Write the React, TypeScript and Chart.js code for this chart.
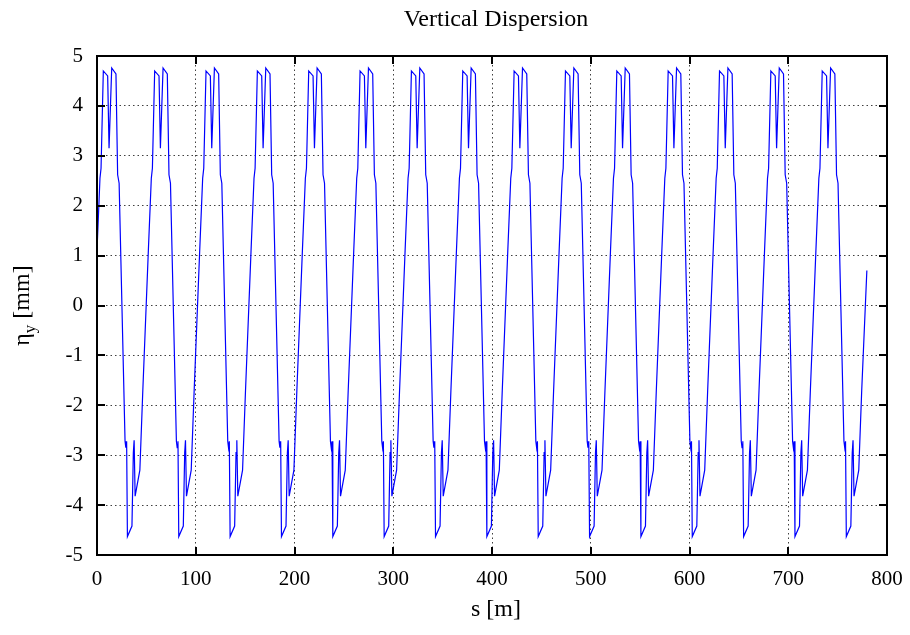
import React, { useEffect, useRef } from "react";
import { Chart, registerables } from "chart.js";

Chart.register(...registerables);

// Start position (m) of each repeated lattice cell
const cellStarts = [0, 52, 104, 156, 208, 260, 312, 364, 416, 468, 520, 572, 624, 676, 728];
// Positions inside one cell (m) and the vertical dispersion there (mm)
const cellOffsets = [0, 3.0, 4.1, 6.4, 10.8, 12.2, 14.9, 19.2, 20.9, 22.4, 28.4, 29.2, 30.0, 30.8, 35.4, 36.8, 37.6, 38.6, 43.4, 46.4];
const cellValues = [1.1, 2.55, 2.75, 4.7, 4.6, 3.15, 4.76, 4.64, 2.62, 2.45, -2.72, -2.85, -2.72, -4.63, -4.42, -2.95, -2.7, -3.82, -3.3, -1.7];
// Last sample at the end of the ring
const endS = [779.6];
const endValues = [0.7];

const xTicks = [0, 100, 200, 300, 400, 500, 600, 700, 800];
const yTicks = [-5, -4, -3, -2, -1, 0, 1, 2, 3, 4, 5];

const titleText = "Vertical Dispersion";
const xTitle = "s [m]";

const FONT = "'Liberation Serif', 'DejaVu Serif', serif";

export default function App() {
  const ref = useRef<HTMLCanvasElement | null>(null);

  useEffect(() => {
    document.body.style.margin = "0";
    const canvas = ref.current;
    if (!canvas) return;

    const pts: { x: number; y: number }[] = [];
    cellStarts.forEach((s0) => {
      cellOffsets.forEach((o, i) => pts.push({ x: s0 + o, y: cellValues[i] }));
    });
    endS.forEach((s, i) => pts.push({ x: s, y: endValues[i] }));

    const framePlugin = {
      id: "frame",
      afterDraw(chart: any) {
        const { ctx, chartArea } = chart;
        const { left, right, top, bottom } = chartArea;
        const xs = chart.scales.x;
        const ys = chart.scales.y;
        ctx.save();
        ctx.strokeStyle = "#000";
        ctx.lineWidth = 2;
        const tl = 8;
        ctx.beginPath();
        xTicks.forEach((v) => {
          const px = Math.round(xs.getPixelForValue(v));
          ctx.moveTo(px, bottom);
          ctx.lineTo(px, bottom - tl);
          ctx.moveTo(px, top);
          ctx.lineTo(px, top + tl);
        });
        yTicks.forEach((v) => {
          const py = Math.round(ys.getPixelForValue(v));
          ctx.moveTo(left, py);
          ctx.lineTo(left + tl, py);
          ctx.moveTo(right, py);
          ctx.lineTo(right - tl, py);
        });
        ctx.stroke();
        ctx.strokeRect(left, top, right - left, bottom - top);

        ctx.fillStyle = "#000";
        ctx.textAlign = "center";
        ctx.textBaseline = "middle";
        ctx.font = `24px ${FONT}`;
        const cx = (left + right) / 2 + 4;
        ctx.fillText(titleText, cx, 20);
        ctx.font = `24px ${FONT}`;
        ctx.fillText(xTitle, cx, 610);

        // y title with subscript, rotated
        ctx.translate(22, (top + bottom) / 2);
        ctx.rotate(-Math.PI / 2);
        ctx.textBaseline = "alphabetic";
        ctx.textAlign = "left";
        const big = `24px ${FONT}`;
        const small = `17px ${FONT}`;
        ctx.font = big;
        const w1 = ctx.measureText("η").width;
        const w3 = ctx.measureText(" [mm]").width;
        ctx.font = small;
        const w2 = ctx.measureText("y").width;
        const total = w1 + w2 + w3;
        let x0 = -total / 2;
        const base = 7;
        ctx.font = big;
        ctx.fillText("η", x0, base);
        x0 += w1;
        ctx.font = small;
        ctx.fillText("y", x0, base + 6);
        x0 += w2;
        ctx.font = big;
        ctx.fillText(" [mm]", x0, base);
        ctx.restore();
      },
    };

    const gridCommon = {
      display: true,
      drawTicks: false,
      color: "rgba(0,0,0,0.75)",
      lineWidth: 1,
    };

    const chart = new Chart(canvas, {
      type: "line",
      data: {
        datasets: [
          {
            data: pts,
            borderColor: "#0000ff",
            borderWidth: 1.2,
            pointRadius: 0,
            tension: 0,
            fill: false,
          },
        ],
      },
      options: {
        animation: false,
        responsive: false,
        maintainAspectRatio: false,
        parsing: false as any,
        layout: { padding: { left: 0, right: 23, top: 56, bottom: 0 } },
        plugins: {
          legend: { display: false },
          title: { display: false },
          tooltip: { enabled: false },
        },
        scales: {
          x: {
            type: "linear",
            min: 0,
            max: 800,
            afterBuildTicks: (scale: any) => {
              scale.ticks = xTicks.map((v) => ({ value: v }));
            },
            afterFit: (scale: any) => {
              scale.height = 80;
              scale.paddingLeft = 0;
              scale.paddingRight = 0;
            },
            ticks: {
              padding: 12,
              color: "#000",
              font: { family: FONT, size: 21 },
              maxRotation: 0,
              callback: (v: any) => String(v),
            },
            grid: { ...gridCommon, borderDash: [1.5, 3] } as any,
            border: { display: false, dash: [1.5, 3] } as any,
          },
          y: {
            type: "linear",
            min: -5,
            max: 5,
            afterBuildTicks: (scale: any) => {
              scale.ticks = yTicks.map((v) => ({ value: v }));
            },
            afterFit: (scale: any) => {
              scale.width = 97;
              scale.paddingTop = 0;
              scale.paddingBottom = 0;
            },
            ticks: {
              padding: 14,
              color: "#000",
              font: { family: FONT, size: 21 },
              callback: (v: any) => String(v),
            },
            grid: { ...gridCommon } as any,
            border: { display: false, dash: [1.5, 3] } as any,
          },
        },
      },
      plugins: [framePlugin],
    });

    return () => chart.destroy();
  }, []);

  return (
    <div style={{ width: 910, height: 635 }}>
      <canvas ref={ref} width={910} height={635} style={{ display: "block" }} />
    </div>
  );
}
